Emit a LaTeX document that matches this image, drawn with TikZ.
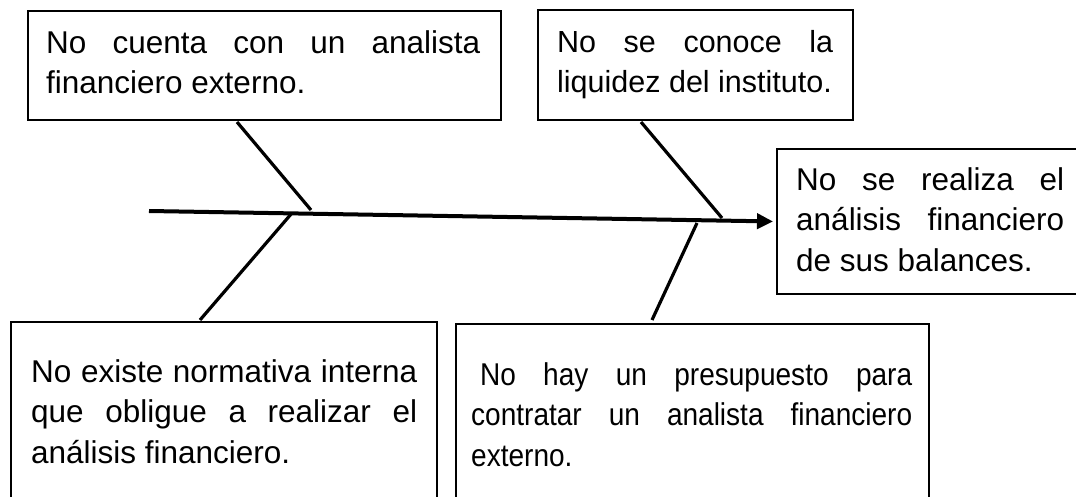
\documentclass[tikz,border=0pt]{standalone}
\usepackage{fontspec}
\setmainfont{Liberation Sans}
\newfontfamily\narrowsans[FakeStretch=0.89]{Liberation Sans}
\usetikzlibrary{arrows.meta,calc}
\hyphenpenalty=10000
\exhyphenpenalty=10000
\tolerance=9999
\tikzset{
  frame/.style={draw=black, line width=2pt, rectangle, inner sep=0pt, anchor=north west},
  txt/.style={anchor=north west, inner sep=0pt, align=justify, font=\fontsize{31.5}{40.5}\selectfont},
  bone/.style={draw=black, line width=3.2pt},
  spine/.style={draw=black, line width=4pt, shorten >=3pt, -{Triangle[length=16pt,width=15pt]}},
}
\begin{document}
\begin{tikzpicture}[x=1pt,y=-1pt]
\useasboundingbox (0,0) rectangle (1076,497);
\clip (0,0) rectangle (1076,497);
% frames
\node[frame, minimum width=473pt, minimum height=109pt] (b1) at (27,10) {};
\node[frame, minimum width=315pt, minimum height=110pt] (b2) at (537,9) {};
\node[frame, minimum width=310pt, minimum height=145pt] (b3) at (776,148) {};
\node[frame, minimum width=426pt, minimum height=200pt] (b4) at (10,321) {};
\node[frame, minimum width=473pt, minimum height=200pt] (b5) at (455,323) {};
% texts
\node[txt, text width=434pt] (t1) at (46,30.4) {No cuenta con un analista financiero externo.};
\node[txt, text width=276pt, font=\fontsize{30.5}{40.5}\selectfont] (t2) at (557,30.2) {No se conoce la liquidez del instituto.};
\node[txt, text width=268pt] (t3) at (796,167.4) {No se realiza el análisis financiero de sus balances.};
\node[txt, text width=386pt] (t4) at (31,359.4) {No existe normativa interna que obligue a realizar el análisis financiero.};
\node[txt, text width=441pt, font=\narrowsans\fontsize{31.5}{40.5}\selectfont] (t5) at (471,362.4) {\hspace*{0.28em}No hay un presupuesto para contratar un analista financiero externo.};
% spine and bones
\coordinate (s0) at (149,211);
\draw[spine] (s0) -- (b3.west);
\coordinate (u1a) at (237,122);
\coordinate (u1b) at (311,210);
\coordinate (l1a) at (292,213);
\coordinate (l1b) at (200,320);
\coordinate (u2a) at (641,122);
\coordinate (u2b) at (722,218);
\coordinate (l2a) at (697,223);
\coordinate (l2b) at (652,320);
\draw[bone] (u1a) -- (u1b);
\draw[bone] (l1a) -- (l1b);
\draw[bone] (u2a) -- (u2b);
\draw[bone] (l2a) -- (l2b);
\end{tikzpicture}
\end{document}
